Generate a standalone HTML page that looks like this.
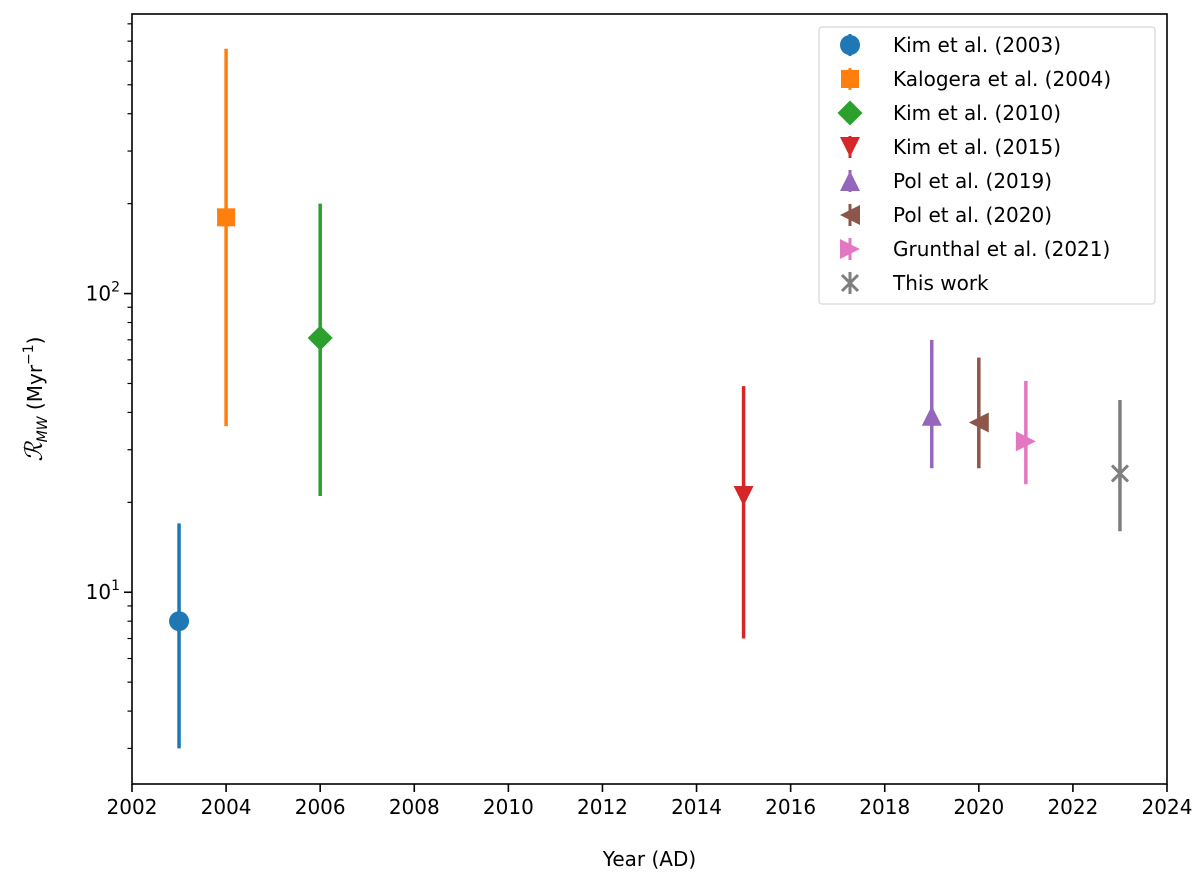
<!DOCTYPE html>
<html><head><meta charset="utf-8"><style>
html,body{margin:0;padding:0;background:#fff;}
svg{display:block;font-family:"DejaVu Sans","Liberation Sans",sans-serif;}
</style></head><body>
<svg id="chart" width="1200" height="878" viewBox="0 0 1200 878" xmlns="http://www.w3.org/2000/svg">
<g id="marks"></g>
<g id="axes"></g>
<g id="legend"></g>
</svg>
<script>
const labels = ["Kim et al. (2003)","Kalogera et al. (2004)","Kim et al. (2010)","Kim et al. (2015)","Pol et al. (2019)","Pol et al. (2020)","Grunthal et al. (2021)","This work"];
const years = [2003, 2004, 2006, 2015, 2019, 2020, 2021, 2023];
const rates = [8.0, 180, 71, 21, 39, 37, 32, 25];
const lowErr = [3.0, 36, 21, 7.0, 26, 26, 23, 16];
const highErr = [17, 660, 200, 49, 70, 61, 51, 44];
const colors = ["#1f77b4","#ff7f0e","#2ca02c","#d62728","#9467bd","#8c564b","#e377c2","#7f7f7f"];
const markers = ["circle","square","diamond","tridown","triup","trileft","triright","x"];
const xTicks = [2002,2004,2006,2008,2010,2012,2014,2016,2018,2020,2022,2024];

const X0=132, X1=1167, Y0=14, Y1=784;
const xMin=2002, xMax=2024;
const yMinLog=0.358, yMaxLog=2.936;
const xs = v => X0 + (v-xMin)/(xMax-xMin)*(X1-X0);
const ys = v => Y1 - (Math.log10(v)-yMinLog)/(yMaxLog-yMinLog)*(Y1-Y0);
const NS="http://www.w3.org/2000/svg";
function mk(tag, attrs, parent){const e=document.createElementNS(NS,tag);for(const k in attrs)e.setAttribute(k,attrs[k]);parent.appendChild(e);return e;}

function marker(type, cx, cy, s, color, parent){
  let e;
  if(type==="circle") e=mk("circle",{cx,cy,r:s},parent);
  else if(type==="square") e=mk("rect",{x:cx-s*0.9,y:cy-s*0.9,width:s*1.8,height:s*1.8},parent);
  else if(type==="diamond") e=mk("polygon",{points:`${cx},${cy-s*1.25} ${cx+s*1.25},${cy} ${cx},${cy+s*1.25} ${cx-s*1.25},${cy}`},parent);
  else if(type==="tridown") e=mk("polygon",{points:`${cx-s},${cy-s} ${cx+s},${cy-s} ${cx},${cy+s}`},parent);
  else if(type==="triup") e=mk("polygon",{points:`${cx-s},${cy+s} ${cx+s},${cy+s} ${cx},${cy-s}`},parent);
  else if(type==="trileft") e=mk("polygon",{points:`${cx+s},${cy-s} ${cx+s},${cy+s} ${cx-s},${cy}`},parent);
  else if(type==="triright") e=mk("polygon",{points:`${cx-s},${cy-s} ${cx-s},${cy+s} ${cx+s},${cy}`},parent);
  else { e=mk("path",{d:`M${cx-s*0.8},${cy-s*0.8}L${cx+s*0.8},${cy+s*0.8}M${cx-s*0.8},${cy+s*0.8}L${cx+s*0.8},${cy-s*0.8}M${cx},${cy-s}L${cx},${cy+s}`,stroke:color,"stroke-width":3,fill:"none"},parent); return e;}
  e.setAttribute("fill",color);
  return e;
}

const gm=document.getElementById("marks");
years.forEach((yr,i)=>{
  const g=mk("g",{},gm);
  
  
  const eb=mk("line",{x1:xs(yr),x2:xs(yr),y1:ys(lowErr[i]),y2:ys(highErr[i]),stroke:colors[i],"stroke-width":3.5},g);
  
  
  const m=marker(markers[i],xs(yr),ys(rates[i]),10,colors[i],g);
  
  
});

const ga=document.getElementById("axes");
const frame=mk("rect",{x:X0,y:Y0,width:X1-X0,height:Y1-Y0,fill:"none",stroke:"#000","stroke-width":1.6},ga);


xTicks.forEach(t=>{
  const x=xs(t);
  mk("line",{x1:x,x2:x,y1:Y1,y2:Y1+8,stroke:"#000","stroke-width":1.6},ga);
  const tx=mk("text",{x,y:Y1+30,"text-anchor":"middle","font-size":20},ga);
  tx.textContent=t;
  
  
});
for(let d=0; d<=3; d++){
  for(let k=1;k<=9;k++){
    const v=k*Math.pow(10,d);
    const lv=Math.log10(v);
    if(lv<yMinLog||lv>yMaxLog) continue;
    const y=ys(v);
    mk("line",{x1:X0-(k===1?8:4.5),x2:X0,y1:y,y2:y,stroke:"#000","stroke-width":k===1?1.6:1.2},ga);
    if(k===1){
      const t=mk("text",{x:X0-12,y:y+7,"text-anchor":"end","font-size":20},ga);
      t.innerHTML='10<tspan dy="-9" font-size="14">'+d+'</tspan>';
      
      
    }
  }
}
const xl=mk("text",{x:(X0+X1)/2,y:866,"text-anchor":"middle","font-size":20},ga);
xl.textContent="Year (AD)";


const yl=mk("text",{x:0,y:0,"text-anchor":"middle","font-size":20,transform:`translate(42,${(Y0+Y1)/2}) rotate(-90)`},ga);
yl.innerHTML='<tspan font-family="Liberation Serif,serif" font-style="italic" font-size="24">ℛ</tspan><tspan font-style="italic" font-size="14" dy="5">MW</tspan><tspan dy="-5"> (Myr</tspan><tspan font-size="14" dy="-9">−1</tspan><tspan dy="9">)</tspan>';



const gl=document.getElementById("legend");
const lb=mk("rect",{x:819,y:27,width:336,height:277,fill:"#fff",stroke:"#d6d6d6","stroke-width":1.2,rx:3},gl);


labels.forEach((lab,i)=>{
  const y=45+i*34;
  const g=mk("g",{},gl);
  
  
  mk("line",{x1:850,x2:850,y1:y-11,y2:y+11,stroke:colors[i],"stroke-width":3},g);
  marker(markers[i],850,y,10,colors[i],g);
  const t=mk("text",{x:893,y:y+7,"font-size":20},g);
  t.textContent=lab;
});
</script>
</body></html>
